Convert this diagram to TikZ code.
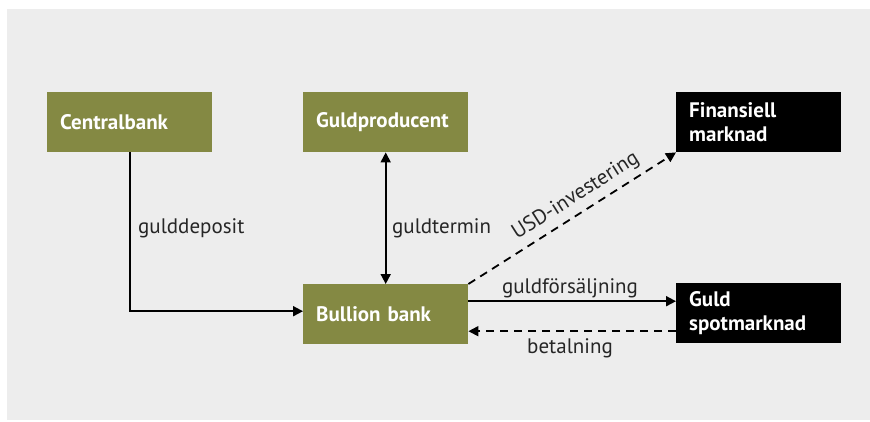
\documentclass[tikz,border=0pt]{standalone}
\usepackage{fontspec}
\setmainfont{PT Sans}
\usetikzlibrary{arrows.meta,calc}
\definecolor{olive}{HTML}{848943}
\definecolor{panel}{HTML}{EDEDED}
\tikzset{
  box/.style={anchor=north west, minimum width=165pt, minimum height=60pt,
    text width=139pt, inner xsep=13pt, inner ysep=0pt, align=left,
    font=\fontsize{21}{24}\selectfont\bfseries, text=white},
  greenbox/.style={box, fill=olive},
  blackbox/.style={box, fill=black},
  flow/.style={line width=1.8pt, -{Triangle[length=10pt,width=10pt]}},
  dashflow/.style={flow, dash pattern=on 8pt off 6pt},
  lbl/.style={font=\fontsize{21}{24}\selectfont, text=black!85, inner sep=0pt}
}
\begin{document}
\begin{tikzpicture}[x=1pt,y=-1pt]
  \useasboundingbox (0,0) rectangle (870,421);
  \fill[panel] (7,9) rectangle (870,420);

  \node[greenbox] (cb) at (47,92)  {Centralbank};
  \node[greenbox] (gp) at (303,92) {Guldproducent};
  \node[blackbox] (fm) at (676,92) {Finansiell\\marknad};
  \node[greenbox] (bb) at (303,284) {Bullion bank};
  \node[blackbox] (gs) at (676,283) {Guld\\spotmarknad};

  % deposit path from the central bank
  \draw[flow] (cb.south) |- ([yshift=3pt]bb.west);
  \node[lbl, anchor=base west] (ldep) at (138,233) {gulddeposit};

  % forward contract with the producer
  \draw[flow, {Triangle[length=10pt,width=10pt]}-{Triangle[length=10pt,width=10pt]}]
    (gp.south) -- (bb.north);
  \node[lbl, anchor=base west] (lterm) at (392,233) {guldtermin};

  % investment of proceeds
  \draw[dashflow] (bb.north east) -- node[lbl, pos=0.56, above=6pt, sloped] (lusd) {USD-investering} (fm.south west);

  % spot sale and payment
  \draw[flow] ([yshift=13pt]bb.east) -- ([yshift=13pt]bb.east -| gs.west);
  \node[lbl, anchor=base] (lsale) at (570,293) {guldförsäljning};
  \draw[dashflow] ([yshift=-17pt]bb.east -| gs.west) -- ([yshift=-17pt]bb.east);
  \node[lbl, anchor=base] (lpay) at (570,353) {betalning};
\end{tikzpicture}
\end{document}
